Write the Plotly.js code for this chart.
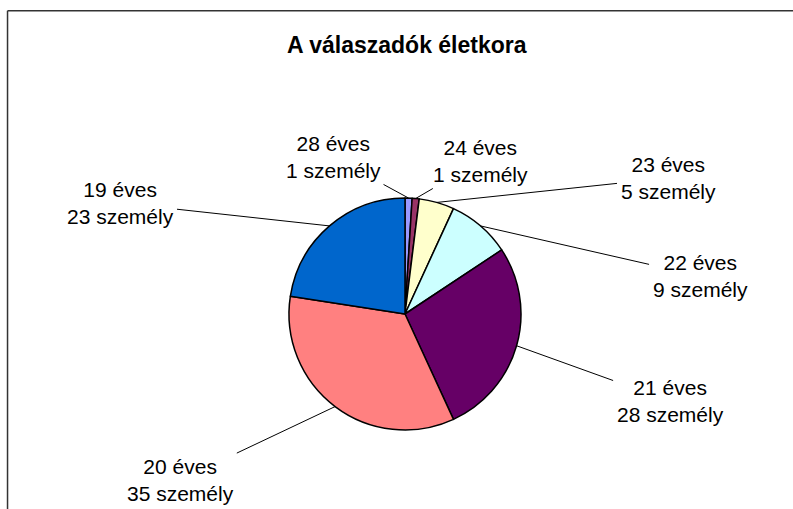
<!DOCTYPE html>
<html>
<head>
<meta charset="utf-8">
<script src="https://cdn.plot.ly/plotly-3.0.1.min.js"></script>
<style>
html,body{margin:0;padding:0;background:#fff;}
#chart{width:793px;height:509px;}
</style>
</head>
<body>
<div id="chart"></div>
<script>
// Data
const ageLabels = ["28 éves", "24 éves", "23 éves", "22 éves", "21 éves", "20 éves", "19 éves"];
const personCounts = [1, 1, 5, 9, 28, 35, 23];
const unitText = "személy";
const chartTitle = "A válaszadók életkora";

// Styling / layout (not data)
const sliceColors = ["#9999FF", "#993366", "#FFFFCC", "#CCFFFF", "#660066", "#FF8080", "#0066CC"];
const W = 793, H = 509;
const pieCenterPx = [405, 314];
const pieRadiusPx = 116;
// where each label block sits (centre of the two-line text, in page pixels)
const labelCentersPx = [[333, 157], [480, 161], [668, 178], [700, 276], [670, 401], [180, 480], [120, 203]];

const FONT = "Liberation Sans, Arial, sans-serif";

const trace = {
  type: "pie",
  labels: ageLabels,
  values: personCounts,
  sort: false,
  direction: "clockwise",
  rotation: 0,
  marker: { colors: sliceColors, line: { color: "#000000", width: 1.5 } },
  textinfo: "none",
  hoverinfo: "label+value",
  showlegend: false,
  domain: {
    x: [(pieCenterPx[0] - pieRadiusPx - 20) / W, (pieCenterPx[0] + pieRadiusPx + 20) / W],
    y: [1 - (pieCenterPx[1] + pieRadiusPx) / H, 1 - (pieCenterPx[1] - pieRadiusPx) / H]
  }
};

// leader lines: tip at the middle of each slice's outer edge, computed from the values
const total = personCounts.reduce((a, b) => a + b, 0);
let cum = 0;
const annotations = personCounts.map((v, i) => {
  const mid = (cum + v / 2) / total * 2 * Math.PI;
  cum += v;
  const tx = pieCenterPx[0] + pieRadiusPx * Math.sin(mid);
  const ty = pieCenterPx[1] - pieRadiusPx * Math.cos(mid);
  return {
    xref: "paper", yref: "paper",
    x: tx / W, y: 1 - ty / H,
    ax: labelCentersPx[i][0] - tx,
    ay: labelCentersPx[i][1] - ty,
    text: ageLabels[i] + "<br>" + v + " " + unitText,
    showarrow: true, arrowhead: 0, arrowwidth: 1, arrowcolor: "#000000",
    standoff: 0, startstandoff: 2,
    font: { family: FONT, size: 21, color: "#000000" },
    align: "center"
  };
});

const layout = {
  width: W,
  height: H,
  margin: { l: 0, r: 0, t: 0, b: 0 },
  paper_bgcolor: "#ffffff",
  title: {
    text: "<b>" + chartTitle + "</b>",
    font: { family: FONT, size: 23, color: "#000000" },
    x: 0.513, xanchor: "center",
    y: 0.912, yanchor: "middle"
  },
  annotations: annotations,
  shapes: [
    { type: "line", xref: "paper", yref: "paper", x0: 0.0095, x1: 0.0095, y0: -0.01, y1: 0.979,
      line: { color: "#333333", width: 1.5 } },
    { type: "line", xref: "paper", yref: "paper", x0: 0.0095, x1: 1.01, y0: 0.979, y1: 0.979,
      line: { color: "#333333", width: 1.5 } }
  ]
};

Plotly.newPlot("chart", [trace], layout, { displayModeBar: false, staticPlot: true });
</script>
</body>
</html>
